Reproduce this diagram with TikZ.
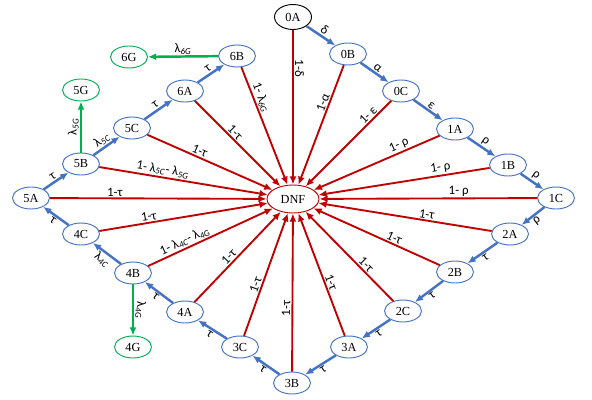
\documentclass[tikz,border=0pt]{standalone}
\usepackage{fontspec}
\setmainfont{Liberation Serif}
\newfontfamily\lblfont{Carlito}
\usepackage{tikz}
\usetikzlibrary{shapes.geometric,arrows.meta,positioning}

\definecolor{dnfred}{RGB}{192,0,0}
\definecolor{chainblue}{RGB}{68,114,196}
\definecolor{exitgreen}{RGB}{0,176,80}

\newcommand{\lsub}[1]{λ\textsubscript{\textit{#1}}}

\tikzset{
  stnode/.style={draw=chainblue, ellipse, line width=0.8pt, minimum width=1.11cm, minimum height=0.66cm, inner sep=0pt, font=\fontsize{10.5}{12}\selectfont},
  gnode/.style={stnode, draw=exitgreen},
  redarr/.style={draw=dnfred, line width=1.6pt, -{Latex[length=7pt,width=6pt]}},
  bluearr/.style={draw=chainblue, line width=2.1pt, -{Latex[length=7pt,width=6pt]}},
  greenarr/.style={draw=exitgreen, line width=2.1pt, -{Latex[length=7pt,width=6pt]}},
  lbl/.style={font=\lblfont\fontsize{11}{12}\selectfont, sloped, inner sep=1pt},
}

\begin{document}
\begin{tikzpicture}[scale=0.3]
    \useasboundingbox (0,0) rectangle (59.2,-40);

    % Absorbing state
    \node[stnode, draw=dnfred, minimum width=1.56cm, minimum height=0.84cm] (dnf) at (29.3,-19.9) {DNF};

    % States
    \node[stnode, draw=black, minimum height=0.75cm] (s0A) at (29.3,-1.7) {0A};
    \node[stnode] (s0B) at (34.8,-5.4) {0B};
    \node[stnode] (s0C) at (40.1,-9.1) {0C};
    \node[stnode] (s1A) at (45.5,-12.9) {1A};
    \node[stnode] (s1B) at (50.8,-16.5) {1B};
    \node[stnode] (s1C) at (55.6,-19.8) {1C};
    \node[stnode] (s2A) at (51.0,-23.4) {2A};
    \node[stnode] (s2B) at (45.5,-27.2) {2B};
    \node[stnode] (s2C) at (40.3,-31.1) {2C};
    \node[stnode] (s3A) at (34.9,-34.7) {3A};
    \node[stnode] (s3B) at (29.2,-38.3) {3B};
    \node[stnode] (s3C) at (24.0,-34.7) {3C};
    \node[stnode] (s4A) at (18.5,-31.2) {4A};
    \node[stnode] (s4B) at (13.3,-27.3) {4B};
    \node[stnode] (s4C) at (8.1,-23.4) {4C};
    \node[stnode] (s5A) at (3.1,-19.8) {5A};
    \node[stnode] (s5B) at (8.1,-16.4) {5B};
    \node[stnode] (s5C) at (13.2,-12.8) {5C};
    \node[stnode] (s6A) at (18.5,-9.1) {6A};
    \node[stnode] (s6B) at (23.7,-5.6) {6B};

    % Graduated states
    \node[gnode] (s6G) at (12.9,-5.7) {6G};
    \node[gnode] (s5G) at (8.1,-9.0) {5G};
    \node[gnode] (s4G) at (13.3,-34.7) {4G};

    % Forward transitions
    \draw[bluearr] (s0A) -- node[lbl, above] {δ} (s0B);
    \draw[bluearr] (s0B) -- node[lbl, above] {α} (s0C);
    \draw[bluearr] (s0C) -- node[lbl, above] {ε} (s1A);
    \draw[bluearr] (s1A) -- node[lbl, above] {ρ} (s1B);
    \draw[bluearr] (s1B) -- node[lbl, above] {ρ} (s1C);
    \draw[bluearr] (s1C) -- node[lbl, below] {ρ} (s2A);
    \draw[bluearr] (s2A) -- node[lbl, below] {τ} (s2B);
    \draw[bluearr] (s2B) -- node[lbl, below] {τ} (s2C);
    \draw[bluearr] (s2C) -- node[lbl, below] {τ} (s3A);
    \draw[bluearr] (s3A) -- node[lbl, below] {τ} (s3B);
    \draw[bluearr] (s3B) -- node[lbl, below] {τ} (s3C);
    \draw[bluearr] (s3C) -- node[lbl, below] {τ} (s4A);
    \draw[bluearr] (s4A) -- node[lbl, below] {τ} (s4B);
    \draw[bluearr] (s4B) -- node[lbl, below] {\lsub{4C}} (s4C);
    \draw[bluearr] (s4C) -- node[lbl, below] {τ} (s5A);
    \draw[bluearr] (s5A) -- node[lbl, above] {τ} (s5B);
    \draw[bluearr] (s5B) -- node[lbl, above] {\lsub{5C}} (s5C);
    \draw[bluearr] (s5C) -- node[lbl, above] {τ} (s6A);
    \draw[bluearr] (s6A) -- node[lbl, above] {τ} (s6B);

    % Graduation
    \draw[greenarr] (s6B) -- node[lbl, above] {\lsub{6G}} (s6G);
    \draw[greenarr] (s5B) -- node[lbl, above] {\lsub{5G}} (s5G);
    \draw[greenarr] (s4B) -- node[lbl, above] {\lsub{4G}} (s4G);

    % Dropping out
    \draw[redarr] (s0A) -- node[lbl, above, pos=0.25] {1-δ} (dnf);
    \draw[redarr] (s0B) -- node[lbl, above, pos=0.33] {1-α} (dnf);
    \draw[redarr] (s0C) -- node[lbl, above, pos=0.22] {1- ε} (dnf);
    \draw[redarr] (s1A) -- node[lbl, above, pos=0.3] {1- ρ} (dnf);
    \draw[redarr] (s1B) -- node[lbl, above, pos=0.28] {1- ρ} (dnf);
    \draw[redarr] (s1C) -- node[lbl, above, pos=0.36] {1- ρ} (dnf);
    \draw[redarr] (s2A) -- node[lbl, above, pos=0.38] {1-τ} (dnf);
    \draw[redarr] (s2B) -- node[lbl, above, pos=0.38] {1-τ} (dnf);
    \draw[redarr] (s2C) -- node[lbl, above, pos=0.36] {1-τ} (dnf);
    \draw[redarr] (s3A) -- node[lbl, above, pos=0.42] {1-τ} (dnf);
    \draw[redarr] (s3B) -- node[lbl, above, pos=0.4] {1-τ} (dnf);
    \draw[redarr] (s3C) -- node[lbl, above, pos=0.4] {1-τ} (dnf);
    \draw[redarr] (s4A) -- node[lbl, above, pos=0.45] {1-τ} (dnf);
    \draw[redarr] (s4B) -- node[lbl, above, pos=0.32] {1- \lsub{4C}- \lsub{4G}} (dnf);
    \draw[redarr] (s4C) -- node[lbl, above, pos=0.3] {1-τ} (dnf);
    \draw[redarr] (s5A) -- node[lbl, above, pos=0.3] {1-τ} (dnf);
    \draw[redarr] (s5B) -- node[lbl, above, pos=0.37] {1- \lsub{5C}- \lsub{5G}} (dnf);
    \draw[redarr] (s5C) -- node[lbl, above, pos=0.4] {1-τ} (dnf);
    \draw[redarr] (s6A) -- node[lbl, above, pos=0.42] {1-τ} (dnf);
    \draw[redarr] (s6B) -- node[lbl, above, pos=0.28] {1- \lsub{6G}} (dnf);
\end{tikzpicture}
\end{document}
